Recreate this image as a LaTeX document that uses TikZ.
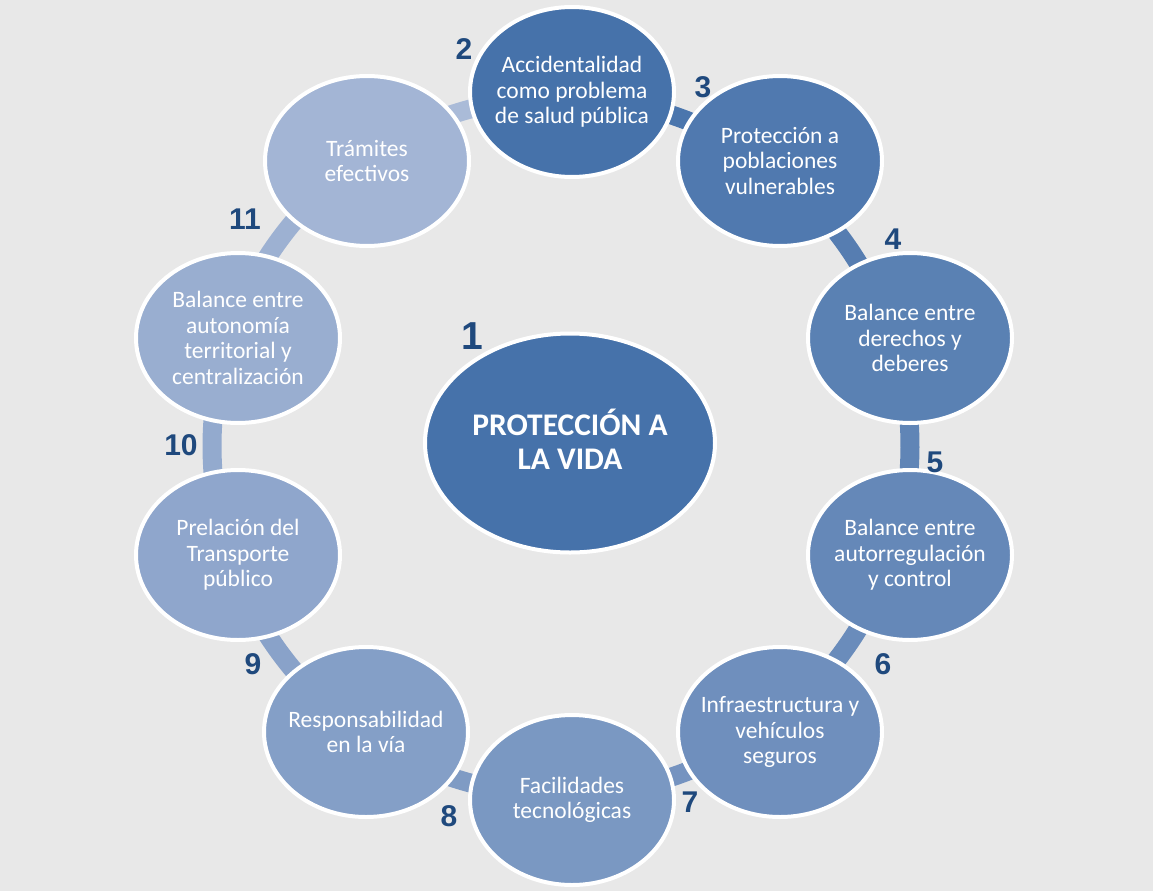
\documentclass[tikz,border=0pt]{standalone}
\usepackage{fontspec}
\setmainfont{Carlito}
\newfontfamily\numfont{Liberation Sans}
\usetikzlibrary{shapes.geometric}
\definecolor{bg}{HTML}{E8E8E8}
\definecolor{cA}{HTML}{4672AA}
\definecolor{cB}{HTML}{A3B5D5}
\definecolor{numc}{HTML}{1F497D}
\colorlet{c2}{cA}
\colorlet{c3}{cB!11!cA}
\colorlet{c4}{cB!22!cA}
\colorlet{c5}{cB!33!cA}
\colorlet{c6}{cB!44!cA}
\colorlet{c7}{cB!56!cA}
\colorlet{c8}{cB!67!cA}
\colorlet{c9}{cB!78!cA}
\colorlet{c10}{cB!89!cA}
\colorlet{c11}{cB}
\colorlet{bar2}{cB!6!cA}
\colorlet{bar3}{cB!17!cA}
\colorlet{bar4}{cB!28!cA}
\colorlet{bar5}{cB!39!cA}
\colorlet{bar6}{cB!50!cA}
\colorlet{bar7}{cB!61!cA}
\colorlet{bar8}{cB!72!cA}
\colorlet{bar9}{cB!83!cA}
\colorlet{bar10}{cB!94!cA}
\colorlet{bar11}{cB!92!white}
\begin{document}
\begin{tikzpicture}[x=1pt,y=-1pt,
  bub/.style={ellipse, draw=white, line width=4pt, minimum width=204pt, minimum height=170pt, inner sep=0pt},
  lbl/.style={text=white, align=center, inner sep=0pt, font=\fontsize{23.5}{25.6}\selectfont},
  num/.style={text=numc, inner sep=0pt, font=\numfont\bfseries\fontsize{30}{30}\selectfont},
  ring/.style={line width=19pt}]
\fill[bg] (0,0) rectangle (1153,891);
\useasboundingbox (0,0) rectangle (1153,891);
\coordinate (rc) at (561,446);
\foreach \s/\c in {234/bar11, 270/bar2, 306/bar3, 342/bar4, 18/bar5, 54/bar6, 90/bar7, 126/bar8, 162/bar9, 198/bar10}
  \draw[ring, \c] (rc) ++(\s:349) arc[start angle=\s, end angle=\s+36.5, radius=349];
% center
\node[bub, fill=cA, minimum width=290pt, minimum height=219pt] (n1) at (570,443) {};
\node[lbl, font=\bfseries\fontsize{31.5}{34}\selectfont] (t1) at ([yshift=4pt]n1.center) {PROTECCIÓN A\\LA VIDA};
% ring of nodes
\node[bub, fill=c2] (n2) at (572,92) {};
\node[lbl] (t2) at (n2) {Accidentalidad\\como problema\\de salud pública};
\node[bub, fill=c3] (n3) at (780,161) {};
\node[lbl] (t3) at (n3) {Protección a\\poblaciones\\vulnerables};
\node[bub, fill=c4] (n4) at (910,338) {};
\node[lbl] (t4) at (n4) {Balance entre\\derechos y\\deberes};
\node[bub, fill=c5] (n5) at (910,555) {};
\node[lbl] (t5) at (n5) {Balance entre\\autorregulación\\y control};
\node[bub, fill=c6] (n6) at (780,732) {};
\node[lbl] (t6) at (n6) {Infraestructura y\\vehículos\\seguros};
\node[bub, fill=c7] (n7) at (572,800) {};
\node[lbl] (t7) at (n7) {Facilidades\\tecnológicas};
\node[bub, fill=c8] (n8) at (366,732) {};
\node[lbl] (t8) at (n8) {Responsabilidad\\en la vía};
\node[bub, fill=c9] (n9) at (238,555) {};
\node[lbl] (t9) at (n9) {Prelación del\\Transporte\\público};
\node[bub, fill=c10] (n10) at (238,338) {};
\node[lbl] (t10) at (n10) {Balance entre\\autonomía\\territorial y\\centralización};
\node[bub, fill=c11] (n11) at (367,161) {};
\node[lbl] (t11) at (n11) {Trámites\\efectivos};
% numbers
\node[num, font=\numfont\bfseries\fontsize{39}{39}\selectfont] (k1) at (472,336) {1};
\node[num] (k2) at (464,49) {2};
\node[num] (k3) at (703,87) {3};
\node[num] (k4) at (893,239) {4};
\node[num] (k5) at (935,462) {5};
\node[num] (k6) at (883,664) {6};
\node[num] (k7) at (690,802) {7};
\node[num] (k8) at (449,816) {8};
\node[num] (k9) at (253,664) {9};
\node[num] (k10) at (181,445) {10};
\node[num] (k11) at (245,219) {11};
\end{tikzpicture}
\end{document}
